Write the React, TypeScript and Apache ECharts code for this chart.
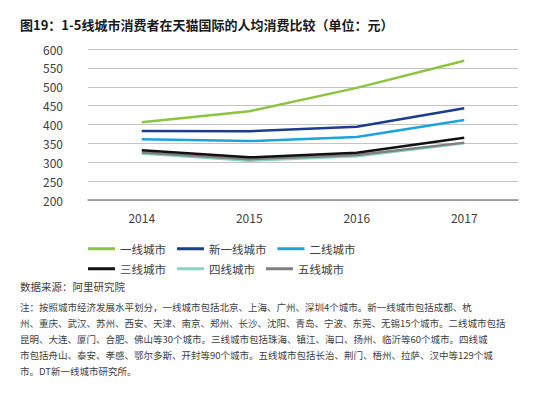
import React, { useEffect, useRef } from "react";
import * as echarts from "echarts";

const titleText = "图19：1-5线城市消费者在天猫国际的人均消费比较（单位：元）";
const years = ["2014", "2015", "2016", "2017"];
const seriesNames = ["一线城市", "新一线城市", "二线城市", "三线城市", "四线城市", "五线城市"];
const tier1 = [406, 435, 497, 569];
const newTier1 = [383, 382, 394, 443];
const tier2 = [361, 356, 367, 412];
const tier3 = [332, 313, 325, 365];
const tier4 = [323, 304, 316, 350];
const tier5 = [326, 308, 319, 352];
const colors = ["#8cc43f", "#1c3c8f", "#1ba3e0", "#111111", "#8ad2c4", "#808080"];
const sourceText = "数据来源：阿里研究院";
const noteLines = [
  "注：按照城市经济发展水平划分，一线城市包括北京、上海、广州、深圳4个城市。新一线城市包括成都、杭",
  "州、重庆、武汉、苏州、西安、天津、南京、郑州、长沙、沈阳、青岛、宁波、东莞、无锡15个城市。二线城市包括",
  "昆明、大连、厦门、合肥、佛山等30个城市。三线城市包括珠海、镇江、海口、扬州、临沂等60个城市。四线城",
  "市包括舟山、泰安、孝感、鄂尔多斯、开封等90个城市。五线城市包括长治、荆门、梧州、拉萨、汉中等129个城",
  "市。DT新一线城市研究所。",
];

const FONT = "'Noto Sans CJK SC', 'Noto Sans', sans-serif";

export default function App() {
  const ref = useRef<HTMLDivElement>(null);
  useEffect(() => {
    if (!ref.current) return;
    const chart = echarts.init(ref.current, undefined, { renderer: "svg" });
    const data = [tier1, newTier1, tier2, tier3, tier4, tier5];
    const drawOrder = [0, 1, 2, 4, 5, 3];
    const legendStyle = {
      left: 83,
      orient: "horizontal" as const,
      icon: "rect",
      itemWidth: 27,
      itemHeight: 3,
      itemGap: 11,
      textStyle: { fontSize: 11.5, color: "#404040", fontFamily: FONT },
    };
    chart.setOption({
      animation: false,
      backgroundColor: "#ffffff",
      textStyle: { fontFamily: FONT },
      grid: { left: 88, right: 20, top: 49, bottom: 198, containLabel: false },
      legend: [
        { ...legendStyle, top: 238, data: seriesNames.slice(0, 3) },
        { ...legendStyle, top: 258, data: seriesNames.slice(3, 6) },
      ],
      xAxis: {
        type: "category",
        data: years,
        boundaryGap: true,
        axisLine: { show: true, lineStyle: { color: "#8c8c8c", width: 1.5 } },
        axisTick: { show: false },
        axisLabel: { fontSize: 12, color: "#404040", margin: 11, fontFamily: FONT },
      },
      yAxis: {
        type: "value",
        min: 200,
        max: 600,
        interval: 50,
        axisLine: { show: false },
        axisTick: { show: false },
        axisLabel: { fontSize: 12, color: "#404040", margin: 25, fontFamily: FONT },
        splitLine: { lineStyle: { color: "#c4c4c4", width: 1 } },
      },
      series: drawOrder.map((i) => ({
        name: seriesNames[i],
        type: "line",
        data: data[i],
        symbol: "none",
        color: colors[i],
        lineStyle: { color: colors[i], width: 2.5 },
      })),
      graphic: [
        {
          type: "text",
          left: 20,
          top: 18,
          style: { text: titleText, fontSize: 13, fontWeight: "bold", fill: "#1a1a1a", fontFamily: FONT },
        },
        {
          type: "text",
          left: 20,
          top: 281,
          style: { text: sourceText, fontSize: 10.5, fill: "#404040", fontFamily: FONT },
        },
        ...noteLines.map((t, k) => ({
          type: "text",
          left: 20,
          top: 302 + k * 16,
          style: { text: t, fontSize: 9.5, fill: "#404040", fontFamily: FONT },
        })),
      ],
    });
    return () => chart.dispose();
  }, []);
  return <div ref={ref} style={{ width: 538, height: 398, position: "absolute", left: 0, top: 0 }} />;
}
